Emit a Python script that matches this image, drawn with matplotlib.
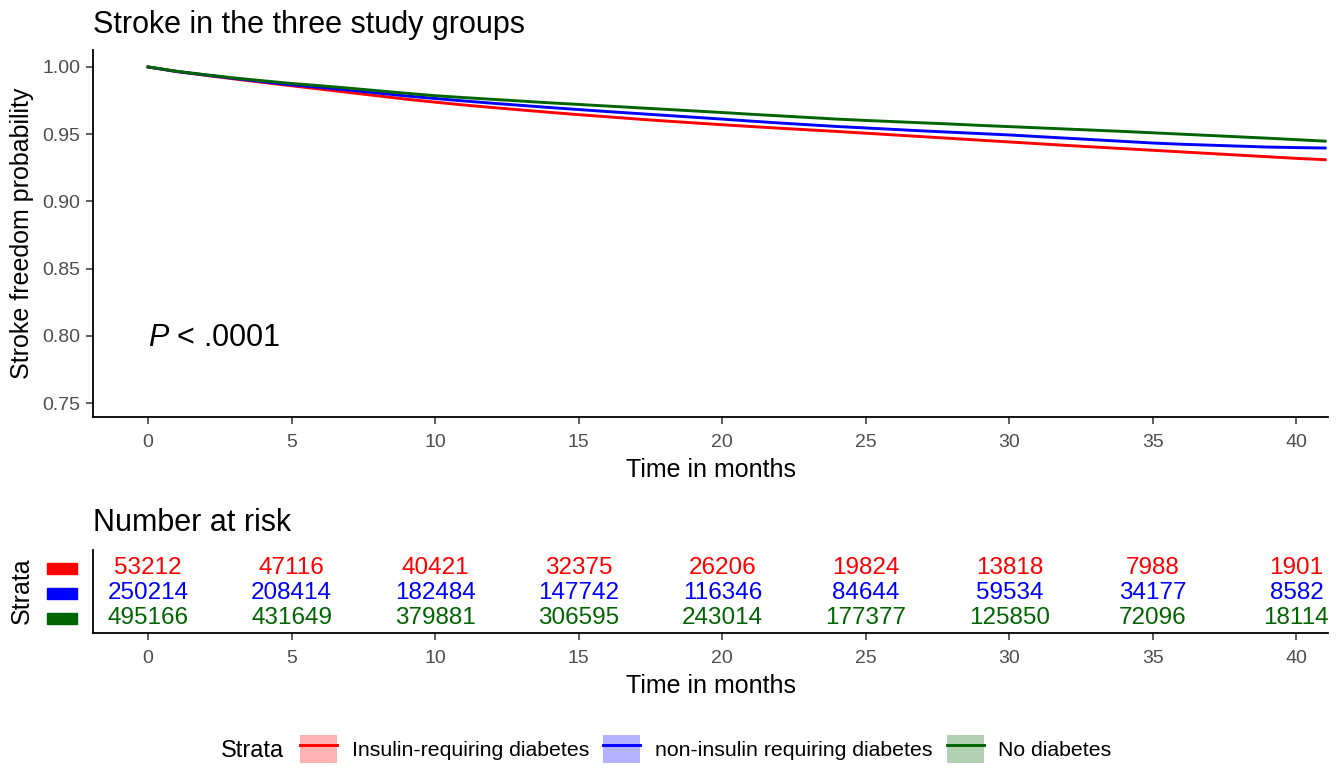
# Kaplan-Meier style stroke-free survival with a number-at-risk table
import numpy as np
import matplotlib.pyplot as plt
from matplotlib.patches import Patch, Rectangle
from matplotlib.lines import Line2D
import matplotlib.transforms as mtransforms

plt.rcParams['font.family'] = ['Liberation Sans', 'DejaVu Sans']
plt.rcParams['mathtext.fontset'] = 'custom'
plt.rcParams['mathtext.it'] = 'Liberation Sans:italic'
plt.rcParams['mathtext.rm'] = 'Liberation Sans'

# Survival estimates (one value per month)
months = list(range(0, 42))
insulin = [1.0000, 0.9965, 0.9938, 0.9911, 0.9885, 0.9860, 0.9835, 0.9810, 0.9785, 0.9760,
           0.9738, 0.9717, 0.9698, 0.9680, 0.9662, 0.9645, 0.9629, 0.9613, 0.9598, 0.9584,
           0.9570, 0.9557, 0.9544, 0.9532, 0.9520, 0.9507, 0.9494, 0.9481, 0.9468, 0.9455,
           0.9442, 0.9429, 0.9416, 0.9404, 0.9392, 0.9380, 0.9368, 0.9356, 0.9344, 0.9332,
           0.9320, 0.9310]
non_insulin = [1.0000, 0.9966, 0.9940, 0.9915, 0.9890, 0.9867, 0.9848, 0.9828, 0.9806, 0.9784,
               0.9765, 0.9747, 0.9730, 0.9714, 0.9698, 0.9683, 0.9668, 0.9654, 0.9640, 0.9626,
               0.9612, 0.9597, 0.9583, 0.9570, 0.9557, 0.9546, 0.9535, 0.9524, 0.9514, 0.9504,
               0.9494, 0.9482, 0.9470, 0.9458, 0.9446, 0.9434, 0.9425, 0.9418, 0.9411, 0.9404,
               0.9400, 0.9397]
no_diabetes = [1.0000, 0.9968, 0.9942, 0.9918, 0.9897, 0.9877, 0.9860, 0.9842, 0.9823, 0.9804,
               0.9786, 0.9772, 0.9759, 0.9746, 0.9733, 0.9721, 0.9709, 0.9697, 0.9685, 0.9673,
               0.9661, 0.9648, 0.9636, 0.9624, 0.9612, 0.9602, 0.9593, 0.9584, 0.9575, 0.9565,
               0.9556, 0.9547, 0.9538, 0.9529, 0.9520, 0.9510, 0.9500, 0.9490, 0.9480, 0.9470,
               0.9459, 0.9448]

# Number at risk table
risk_times = [0, 5, 10, 15, 20, 25, 30, 35, 40]
risk_insulin = [53212, 47116, 40421, 32375, 26206, 19824, 13818, 7988, 1901]
risk_non_insulin = [250214, 208414, 182484, 147742, 116346, 84644, 59534, 34177, 8582]
risk_no_diabetes = [495166, 431649, 379881, 306595, 243014, 177377, 125850, 72096, 18114]

labels = ['Insulin-requiring diabetes', 'non-insulin requiring diabetes', 'No diabetes']
colors = ['#FF0000', '#0000FF', '#006400']
curves = [insulin, non_insulin, no_diabetes]
risks = [risk_insulin, risk_non_insulin, risk_no_diabetes]

W, H = 1336, 768
fig = plt.figure(figsize=(W / 100, H / 100), dpi=100)

left = 93 / W
width = (1328 - 93) / W
ax1 = fig.add_axes([left, 1 - 417 / H, width, (417 - 50) / H])
ax2 = fig.add_axes([left, 1 - 633 / H, width, (633 - 550) / H])

xlim = (-1.92, 41.1)
tick_col = '#4D4D4D'

# main survival curves
for vals, c in zip(curves, colors):
    ax1.plot(months, vals, color=c, lw=2.1)

ax1.set_xlim(*xlim)
ax1.set_ylim(0.7396, 1.0126)
ax1.set_xticks(risk_times)
ax1.set_yticks([0.75, 0.80, 0.85, 0.90, 0.95, 1.00])
ax1.set_yticklabels(['0.75', '0.80', '0.85', '0.90', '0.95', '1.00'])
ax1.text(0, 0.7984, '$P$ < .0001', fontsize=22, va='center', ha='left')
ax1.set_xlabel('Time in months', fontsize=18, va='center')
ax1.xaxis.set_label_coords(0.5, -(470 - 417) / 367)
ax1.set_ylabel('Stroke freedom probability', fontsize=18, va='center')
ax1.yaxis.set_label_coords((22 - 93) / 1235, 0.5)

# risk table
rows = [3, 2, 1]
for r, nums, c in zip(rows, risks, colors):
    for t, n in zip(risk_times, nums):
        ax2.text(t, r, str(n), color=c, fontsize=17.5, ha='center', va='center')
ax2.set_xlim(*xlim)
ax2.set_ylim(0.4, 3.72)
ax2.set_xticks(risk_times)
ax2.set_yticks([])
ax2.set_xlabel('Time in months', fontsize=18, va='center')
ax2.xaxis.set_label_coords(0.5, -(686 - 633) / 83)
ax2.set_ylabel('Strata', fontsize=18, va='center')
ax2.yaxis.set_label_coords((22 - 93) / 1235, (633 - 591) / 83)

# coloured strata keys left of the table
blend = mtransforms.blended_transform_factory(fig.transFigure, ax2.transData)
for r, c in zip(rows, colors):
    fig.add_artist(Rectangle((47 / W, r - 0.22), 30 / W, 0.44, transform=blend,
                             color=c, clip_on=False))

for ax in (ax1, ax2):
    for s in ('top', 'right'):
        ax.spines[s].set_visible(False)
    for s in ('left', 'bottom'):
        ax.spines[s].set_linewidth(1.3)
    ax.tick_params(axis='both', labelsize=14, labelcolor=tick_col, color='#333333',
                   length=5, width=1.1)
    ax.tick_params(axis='x', pad=7)
    ax.tick_params(axis='y', pad=4)

# titles
fig.text(93 / W, 1 - 25 / H, 'Stroke in the three study groups', fontsize=22,
         va='center', ha='left')
fig.text(93 / W, 1 - 523 / H, 'Number at risk', fontsize=22, va='center', ha='left')

# legend at the bottom
handles = [(Patch(facecolor=c, alpha=0.3, edgecolor='none'), Line2D([], [], color=c, lw=2.1))
           for c in colors]
fig.text(221 / W, 1 - 751 / H, 'Strata', fontsize=17, va='center', ha='left')
fig.legend(handles, labels, loc='center left', bbox_to_anchor=(300 / W, 1 - 749 / H),
           ncol=3, frameon=False, fontsize=15.3, handlelength=1.74, handleheight=1.7,
           handletextpad=0.7, columnspacing=0.66, borderaxespad=0, borderpad=0)

fig.savefig('out.png', dpi=100)
